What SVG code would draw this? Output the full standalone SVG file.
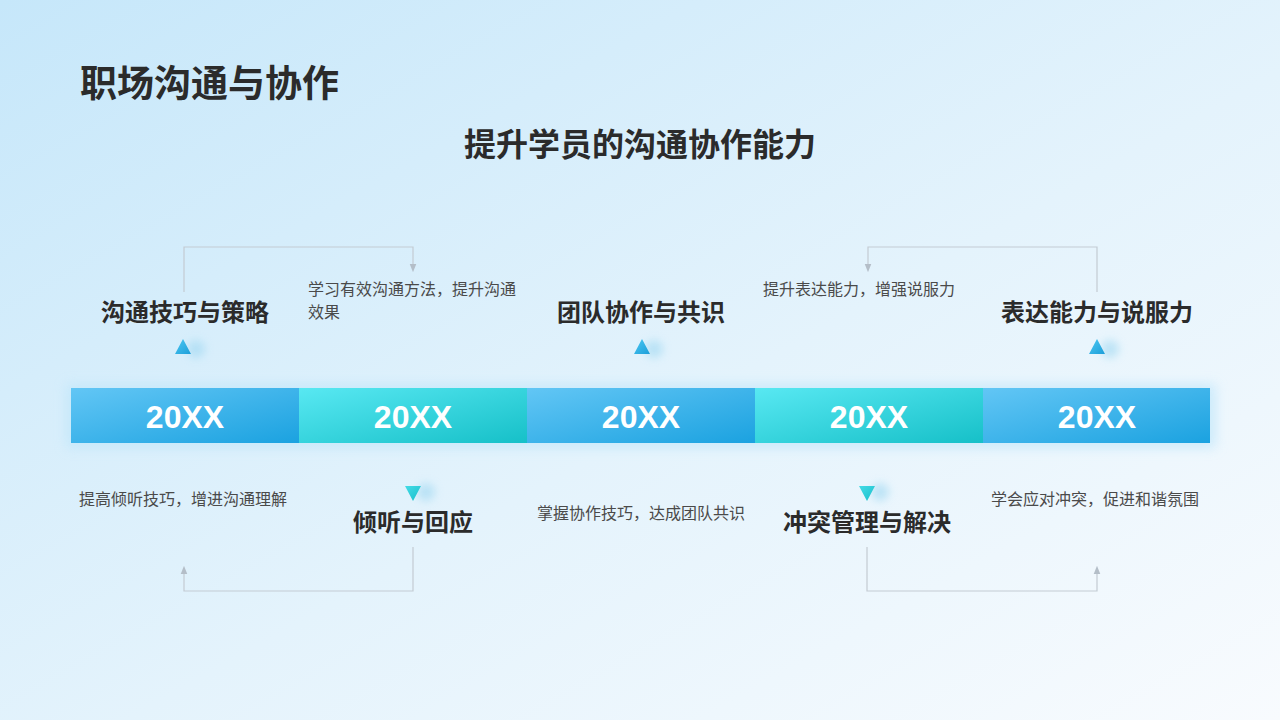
<svg xmlns="http://www.w3.org/2000/svg" width="1280" height="720" viewBox="0 0 1280 720">
<defs>
<linearGradient id="bg" x1="0" y1="0" x2="1" y2="1">
<stop offset="0" stop-color="#c6e7fa"/>
<stop offset="0.55" stop-color="#e4f3fc"/>
<stop offset="1" stop-color="#f8fbfe"/>
</linearGradient>
<linearGradient id="gBlue" x1="0" y1="0" x2="1" y2="1">
<stop offset="0" stop-color="#62c6f5"/>
<stop offset="1" stop-color="#1ba2e0"/>
</linearGradient>
<linearGradient id="gTeal" x1="0" y1="0" x2="1" y2="1">
<stop offset="0" stop-color="#58e8f2"/>
<stop offset="1" stop-color="#16c0c8"/>
</linearGradient>
<linearGradient id="triBlue" x1="0" y1="0" x2="1" y2="1">
<stop offset="0" stop-color="#4cc8f2"/>
<stop offset="1" stop-color="#1d9ed9"/>
</linearGradient>
<linearGradient id="triTeal" x1="0" y1="0" x2="1" y2="1">
<stop offset="0" stop-color="#45dbe6"/>
<stop offset="1" stop-color="#19bfcb"/>
</linearGradient>
<filter id="blur" x="-50%" y="-50%" width="200%" height="200%"><feGaussianBlur stdDeviation="6"/></filter>
<filter id="blur2" x="-100%" y="-100%" width="300%" height="300%"><feGaussianBlur stdDeviation="4"/></filter>
<marker id="arr" viewBox="0 0 10 10" refX="5" refY="5" markerWidth="7" markerHeight="7" orient="auto">
<path d="M0,1 L10,5 L0,9 Z" fill="#b4bec8"/>
</marker>
<style>
.h1{font-family:"Noto Sans CJK SC","Noto Sans",sans-serif;font-weight:bold;fill:#2b2b2b}
.node{font-family:"Noto Sans CJK SC","Noto Sans",sans-serif;font-weight:bold;font-size:24px;fill:#2b2b2b;text-anchor:middle}
.desc{font-family:"Noto Sans CJK SC","Noto Sans",sans-serif;font-size:16px;fill:#4a4a4a}
.yr{font-family:"Liberation Sans",Arial,sans-serif;font-weight:bold;font-size:32px;fill:#ffffff;text-anchor:middle}
.con{fill:none;stroke:#c3cbd3;stroke-width:1.2}
.glow{fill:#9fd8f2;opacity:0.6}
</style>
</defs>
<rect width="1280" height="720" fill="url(#bg)"/>
<text class="h1" x="80" y="97" font-size="37">职场沟通与协作</text>
<text class="h1" x="640" y="156" font-size="32" text-anchor="middle">提升学员的沟通协作能力</text>

<g id="bar">
<rect x="66" y="384" width="1150" height="64" fill="#bfe6fa" opacity="0.7" filter="url(#blur)"/>
<rect x="71" y="388" width="228" height="55" fill="url(#gBlue)"/>
<rect x="299" y="388" width="228" height="55" fill="url(#gTeal)"/>
<rect x="527" y="388" width="228" height="55" fill="url(#gBlue)"/>
<rect x="755" y="388" width="228" height="55" fill="url(#gTeal)"/>
<rect x="983" y="388" width="227" height="55" fill="url(#gBlue)"/>
<text class="yr" x="185" y="428">20XX</text>
<text class="yr" x="413" y="428">20XX</text>
<text class="yr" x="641" y="428">20XX</text>
<text class="yr" x="869" y="428">20XX</text>
<text class="yr" x="1097" y="428">20XX</text>
</g>

<g id="connectors">
<path class="con" d="M184,292 V247 H413 V268" marker-end="url(#arr)"/>
<path class="con" d="M1097,292 V247 H868 V268" marker-end="url(#arr)"/>
<path class="con" d="M413,547 V591 H184 V570" marker-end="url(#arr)"/>
<path class="con" d="M867,547 V591 H1097 V570" marker-end="url(#arr)"/>
</g>

<g id="node1">
<text class="node" x="185" y="321">沟通技巧与策略</text>
<circle class="glow" cx="196" cy="349" r="9" filter="url(#blur2)"/>
<polygon points="183,339 191,354 175,354" fill="url(#triBlue)"/>
<text class="desc" x="308" y="295">学习有效沟通方法，提升沟通</text>
<text class="desc" x="308" y="318">效果</text>
</g>

<g id="node2">
<circle class="glow" cx="426" cy="492" r="9" filter="url(#blur2)"/>
<polygon points="405,486 421,486 413,501" fill="url(#triTeal)"/>
<text class="node" x="413" y="531">倾听与回应</text>
<text class="desc" x="79" y="505">提高倾听技巧，增进沟通理解</text>
</g>

<g id="node3">
<text class="node" x="641" y="321">团队协作与共识</text>
<circle class="glow" cx="654" cy="349" r="9" filter="url(#blur2)"/>
<polygon points="642,339 650,354 634,354" fill="url(#triBlue)"/>
<text class="desc" x="537" y="519">掌握协作技巧，达成团队共识</text>
</g>

<g id="node4">
<circle class="glow" cx="880" cy="492" r="9" filter="url(#blur2)"/>
<polygon points="859,486 875,486 867,501" fill="url(#triTeal)"/>
<text class="node" x="867" y="531">冲突管理与解决</text>
<text class="desc" x="763" y="295">提升表达能力，增强说服力</text>
</g>

<g id="node5">
<text class="node" x="1097" y="321">表达能力与说服力</text>
<circle class="glow" cx="1110" cy="349" r="9" filter="url(#blur2)"/>
<polygon points="1097,339 1105,354 1089,354" fill="url(#triBlue)"/>
<text class="desc" x="991" y="505">学会应对冲突，促进和谐氛围</text>
</g>
</svg>
